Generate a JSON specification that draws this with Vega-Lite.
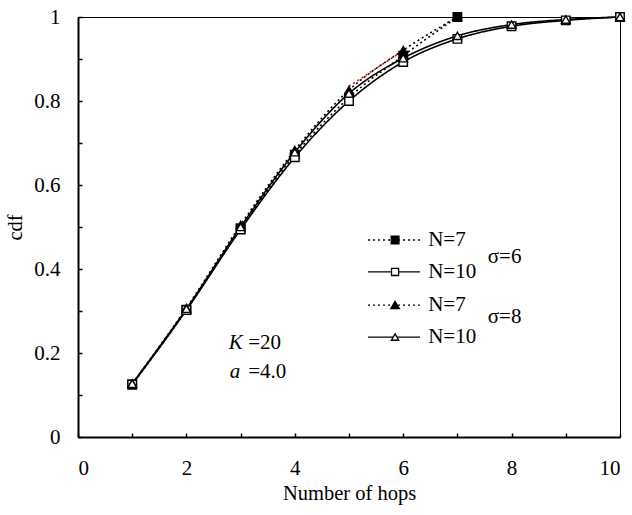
{
  "$schema": "https://vega.github.io/schema/vega-lite/v6.json",
  "autosize": "none",
  "width": 542,
  "height": 420,
  "padding": {"left": 78, "top": 17, "right": 12, "bottom": 78},
  "config": {
    "font": "Liberation Serif",
    "view": {"stroke": "#000", "strokeWidth": 1},
    "axis": {
      "grid": false,
      "domainColor": "#000",
      "domainWidth": 2,
      "tickColor": "#000",
      "tickWidth": 1.5,
      "labelColor": "#000",
      "titleColor": "#000",
      "titleFontWeight": "normal",
      "labelFont": "Liberation Serif",
      "titleFont": "Liberation Serif"
    }
  },
  "datasets": {
    "one": [{}],
    "curves": [
      {"series": "σ=6, N=7", "hops": 1, "cdf": 0.125},
      {"series": "σ=6, N=7", "hops": 2, "cdf": 0.303},
      {"series": "σ=6, N=7", "hops": 3, "cdf": 0.497},
      {"series": "σ=6, N=7", "hops": 4, "cdf": 0.672},
      {"series": "σ=6, N=7", "hops": 5, "cdf": 0.808},
      {"series": "σ=6, N=7", "hops": 6, "cdf": 0.908},
      {"series": "σ=6, N=7", "hops": 7, "cdf": 1.0},
      {"series": "σ=6, N=10", "hops": 1, "cdf": 0.125},
      {"series": "σ=6, N=10", "hops": 2, "cdf": 0.302},
      {"series": "σ=6, N=10", "hops": 3, "cdf": 0.494},
      {"series": "σ=6, N=10", "hops": 4, "cdf": 0.666},
      {"series": "σ=6, N=10", "hops": 5, "cdf": 0.8},
      {"series": "σ=6, N=10", "hops": 6, "cdf": 0.893},
      {"series": "σ=6, N=10", "hops": 7, "cdf": 0.948},
      {"series": "σ=6, N=10", "hops": 8, "cdf": 0.978},
      {"series": "σ=6, N=10", "hops": 9, "cdf": 0.992},
      {"series": "σ=6, N=10", "hops": 10, "cdf": 1.0},
      {"series": "σ=8, N=7", "hops": 1, "cdf": 0.127},
      {"series": "σ=8, N=7", "hops": 2, "cdf": 0.307},
      {"series": "σ=8, N=7", "hops": 3, "cdf": 0.505},
      {"series": "σ=8, N=7", "hops": 4, "cdf": 0.683},
      {"series": "σ=8, N=7", "hops": 5, "cdf": 0.826},
      {"series": "σ=8, N=7", "hops": 6, "cdf": 0.921},
      {"series": "σ=8, N=7", "hops": 7, "cdf": 1.0},
      {"series": "σ=8, N=10", "hops": 1, "cdf": 0.127},
      {"series": "σ=8, N=10", "hops": 2, "cdf": 0.305},
      {"series": "σ=8, N=10", "hops": 3, "cdf": 0.5},
      {"series": "σ=8, N=10", "hops": 4, "cdf": 0.678},
      {"series": "σ=8, N=10", "hops": 5, "cdf": 0.818},
      {"series": "σ=8, N=10", "hops": 6, "cdf": 0.902},
      {"series": "σ=8, N=10", "hops": 7, "cdf": 0.955},
      {"series": "σ=8, N=10", "hops": 8, "cdf": 0.982},
      {"series": "σ=8, N=10", "hops": 9, "cdf": 0.994},
      {"series": "σ=8, N=10", "hops": 10, "cdf": 1.0}
    ]
  },
  "layer": [
    {
      "data": {"name": "curves"},
      "mark": {"type": "line", "color": "#000", "strokeWidth": 1.6, "interpolate": "monotone"},
      "encoding": {
        "x": {
          "field": "hops", "type": "quantitative",
          "scale": {"domain": [0, 10], "nice": false, "zero": true},
          "axis": {
            "title": "Number of hops",
            "values": [0, 1, 2, 3, 4, 5, 6, 7, 8, 9, 10],
            "labelExpr": "datum.value % 2 == 0 ? datum.label : ''",
            "tickSize": -4,
            "labelFontSize": 21,
            "titleFontSize": 20.5,
            "labelPadding": 24,
            "titlePadding": 5
          }
        },
        "y": {
          "field": "cdf", "type": "quantitative",
          "scale": {"domain": [0, 1], "nice": false},
          "axis": {
            "title": "cdf",
            "values": [0, 0.1, 0.2, 0.3, 0.4, 0.5, 0.6, 0.7, 0.8, 0.9, 1],
            "labelExpr": "round(datum.value*10) % 2 == 0 ? format(datum.value, '~g') : ''",
            "tickSize": -4,
            "labelFontSize": 21,
            "titleFontSize": 20.5,
            "labelPadding": 22,
            "titlePadding": 8
          }
        },
        "strokeDash": {
          "field": "series", "type": "nominal",
          "scale": {"domain": ["σ=6, N=7", "σ=6, N=10", "σ=8, N=7", "σ=8, N=10"], "range": [[2, 3], [1, 0], [2, 3], [1, 0]]},
          "legend": null
        }
      }
    },
    {
      "data": {"name": "one"},
      "mark": {"type": "rule", "color": "#e00000", "strokeWidth": 1.6, "strokeDash": [2, 3]},
      "encoding": {
        "x": {"datum": 5},
        "y": {"datum": 0.835},
        "x2": {"datum": 6},
        "y2": {"datum": 0.92}
      }
    },
    {
      "data": {"name": "curves"},
      "mark": {"type": "point", "filled": true, "stroke": "#000", "strokeWidth": 1.4, "size": 72, "opacity": 1},
      "encoding": {
        "x": {"field": "hops", "type": "quantitative"},
        "y": {"field": "cdf", "type": "quantitative"},
        "shape": {
          "field": "series", "type": "nominal",
          "scale": {"domain": ["σ=6, N=7", "σ=6, N=10", "σ=8, N=7", "σ=8, N=10"], "range": ["square", "square", "triangle-up", "triangle-up"]},
          "legend": null
        },
        "fill": {
          "field": "series", "type": "nominal",
          "scale": {"domain": ["σ=6, N=7", "σ=6, N=10", "σ=8, N=7", "σ=8, N=10"], "range": ["#000", "#fff", "#000", "#fff"]},
          "legend": null
        }
      }
    },
    {"data": {"name": "one"}, "mark": {"type": "rule", "color": "#000", "strokeWidth": 1.3, "strokeDash": [2, 3]}, "encoding": {"x": {"datum": 5.35}, "x2": {"datum": 6.31}, "y": {"datum": 0.469}}},
    {"data": {"name": "one"}, "mark": {"type": "point", "shape": "square", "filled": true, "fill": "#000", "stroke": "#000", "size": 50, "opacity": 1}, "encoding": {"x": {"datum": 5.85}, "y": {"datum": 0.469}}},
    {"data": {"name": "one"}, "mark": {"type": "text", "align": "left", "baseline": "middle", "font": "Liberation Serif", "fontSize": 21, "fill": "#000"}, "encoding": {"x": {"datum": 6.46}, "y": {"datum": 0.469}, "text": {"value": "N=7"}}},
    {"data": {"name": "one"}, "mark": {"type": "rule", "color": "#000", "strokeWidth": 1.3}, "encoding": {"x": {"datum": 5.35}, "x2": {"datum": 6.31}, "y": {"datum": 0.393}}},
    {"data": {"name": "one"}, "mark": {"type": "point", "shape": "square", "filled": true, "fill": "#fff", "stroke": "#000", "strokeWidth": 1.3, "size": 50, "opacity": 1}, "encoding": {"x": {"datum": 5.85}, "y": {"datum": 0.393}}},
    {"data": {"name": "one"}, "mark": {"type": "text", "align": "left", "baseline": "middle", "font": "Liberation Serif", "fontSize": 21, "fill": "#000"}, "encoding": {"x": {"datum": 6.46}, "y": {"datum": 0.393}, "text": {"value": "N=10"}}},
    {"data": {"name": "one"}, "mark": {"type": "rule", "color": "#000", "strokeWidth": 1.3, "strokeDash": [2, 3]}, "encoding": {"x": {"datum": 5.35}, "x2": {"datum": 6.31}, "y": {"datum": 0.314}}},
    {"data": {"name": "one"}, "mark": {"type": "point", "shape": "triangle-up", "filled": true, "fill": "#000", "stroke": "#000", "size": 55, "opacity": 1}, "encoding": {"x": {"datum": 5.85}, "y": {"datum": 0.314}}},
    {"data": {"name": "one"}, "mark": {"type": "text", "align": "left", "baseline": "middle", "font": "Liberation Serif", "fontSize": 21, "fill": "#000"}, "encoding": {"x": {"datum": 6.46}, "y": {"datum": 0.314}, "text": {"value": "N=7"}}},
    {"data": {"name": "one"}, "mark": {"type": "rule", "color": "#000", "strokeWidth": 1.3}, "encoding": {"x": {"datum": 5.35}, "x2": {"datum": 6.31}, "y": {"datum": 0.238}}},
    {"data": {"name": "one"}, "mark": {"type": "point", "shape": "triangle-up", "filled": true, "fill": "#fff", "stroke": "#000", "strokeWidth": 1.3, "size": 55, "opacity": 1}, "encoding": {"x": {"datum": 5.85}, "y": {"datum": 0.238}}},
    {"data": {"name": "one"}, "mark": {"type": "text", "align": "left", "baseline": "middle", "font": "Liberation Serif", "fontSize": 21, "fill": "#000"}, "encoding": {"x": {"datum": 6.46}, "y": {"datum": 0.238}, "text": {"value": "N=10"}}},
    {"data": {"name": "one"}, "mark": {"type": "text", "align": "left", "baseline": "middle", "font": "Liberation Serif", "fontSize": 21, "fill": "#000"}, "encoding": {"x": {"datum": 7.56}, "y": {"datum": 0.429}, "text": {"value": "σ=6"}}},
    {"data": {"name": "one"}, "mark": {"type": "text", "align": "left", "baseline": "middle", "font": "Liberation Serif", "fontSize": 21, "fill": "#000"}, "encoding": {"x": {"datum": 7.56}, "y": {"datum": 0.286}, "text": {"value": "σ=8"}}},
    {"data": {"name": "one"}, "mark": {"type": "text", "align": "left", "baseline": "middle", "font": "Liberation Serif", "fontSize": 21, "fontStyle": "italic", "fill": "#000"}, "encoding": {"x": {"datum": 2.78}, "y": {"datum": 0.224}, "text": {"value": "K"}}},
    {"data": {"name": "one"}, "mark": {"type": "text", "align": "left", "baseline": "middle", "font": "Liberation Serif", "fontSize": 21, "fill": "#000"}, "encoding": {"x": {"datum": 3.14}, "y": {"datum": 0.224}, "text": {"value": "=20"}}},
    {"data": {"name": "one"}, "mark": {"type": "text", "align": "left", "baseline": "middle", "font": "Liberation Serif", "fontSize": 21, "fontStyle": "italic", "fill": "#000"}, "encoding": {"x": {"datum": 2.8}, "y": {"datum": 0.155}, "text": {"value": "a"}}},
    {"data": {"name": "one"}, "mark": {"type": "text", "align": "left", "baseline": "middle", "font": "Liberation Serif", "fontSize": 21, "fill": "#000"}, "encoding": {"x": {"datum": 3.14}, "y": {"datum": 0.155}, "text": {"value": "=4.0"}}}
  ]
}
